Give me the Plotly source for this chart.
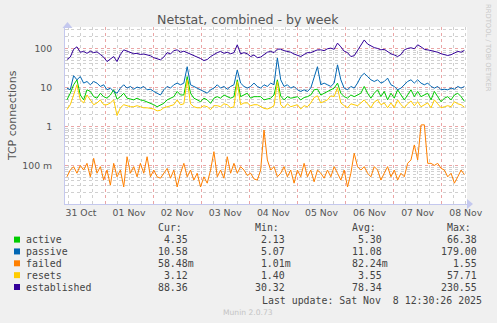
import plotly.graph_objects as go
import pandas as pd

# ---------------- data (100-minute samples, Oct 31 05:00 -> Nov 8 11:20) ----------------
start_time = "2025-10-31 05:00"
step = "100min"

active = [4.8, 7.1, 11.7, 15.7, 6.4, 4.8, 8.7, 7.9, 5.8, 5.3,
          7.1, 5.8, 5.3, 6.4, 8.7, 5.0, 5.8, 7.1, 5.3, 5.0,
          4.8, 5.3, 4.8, 4.6, 4.3, 4.0, 3.6, 3.2, 3.5, 3.9,
          4.8, 5.3, 5.8, 7.9, 6.4, 6.4, 19.0, 7.1, 5.3, 4.8,
          4.3, 5.3, 4.8, 3.9, 5.3, 5.8, 5.3, 6.4, 5.8, 5.3,
          5.8, 15.7, 5.8, 6.4, 7.1, 5.3, 5.8, 5.8, 5.8, 4.8,
          5.0, 5.3, 6.4, 15.7, 6.0, 4.8, 5.8, 5.3, 5.5, 5.8,
          4.8, 5.5, 5.8, 6.4, 8.7, 9.0, 6.4, 7.1, 7.9, 8.7,
          9.6, 12.9, 7.1, 5.8, 5.3, 6.4, 5.8, 6.4, 7.1, 10.6,
          7.1, 5.3, 7.1, 8.7, 5.8, 7.9, 4.8, 7.1, 5.3, 8.7,
          6.4, 4.8, 6.4, 8.7, 5.8, 7.9, 5.8, 6.4, 7.1, 4.8,
          7.9, 5.8, 4.3, 5.3, 5.8, 4.8, 6.4, 7.1, 5.8, 4.4]

passive = [9.6, 8.7, 20.0, 15.7, 19.0, 12.9, 14.2, 11.7, 14.2, 12.9,
           10.6, 11.7, 8.7, 9.6, 7.9, 7.1, 9.6, 11.7, 9.6, 10.6,
           9.0, 10.2, 9.6, 10.6, 8.7, 9.0, 7.9, 7.1, 6.4, 8.7,
           10.6, 9.6, 11.7, 12.9, 11.7, 12.9, 34.0, 11.7, 10.6, 9.6,
           8.7, 7.9, 7.1, 8.7, 9.6, 11.7, 9.6, 10.6, 9.0, 10.6,
           11.7, 28.0, 12.9, 10.6, 9.6, 10.6, 12.9, 10.6, 9.6, 11.7,
           10.6, 12.9, 11.7, 57.0, 15.7, 10.6, 11.7, 9.6, 10.6, 8.7,
           7.9, 8.7, 7.9, 9.6, 19.0, 34.0, 11.7, 12.9, 11.7, 10.6,
           12.9, 38.0, 15.7, 9.6, 8.7, 10.6, 9.6, 12.9, 19.0, 23.0,
           19.0, 15.7, 14.2, 15.7, 12.9, 14.2, 17.3, 11.7, 10.6, 8.7,
           9.6, 11.7, 14.2, 15.7, 12.9, 15.7, 12.9, 11.7, 12.9, 10.6,
           9.6, 10.6, 8.7, 9.0, 8.7, 9.6, 9.0, 10.6, 9.6, 10.6]

failed = [0.051, 0.076, 0.093, 0.063, 0.100, 0.076, 0.113, 0.051, 0.152, 0.063,
          0.093, 0.042, 0.076, 0.031, 0.113, 0.051, 0.076, 0.028, 0.167, 0.063,
          0.093, 0.051, 0.113, 0.063, 0.167, 0.051, 0.076, 0.051, 0.047, 0.063,
          0.084, 0.047, 0.076, 0.028, 0.063, 0.113, 0.051, 0.076, 0.042, 0.063,
          0.028, 0.051, 0.035, 0.076, 0.225, 0.051, 0.076, 0.047, 0.167, 0.063,
          0.113, 0.063, 0.093, 0.076, 0.055, 0.063, 0.045, 0.042, 0.076, 0.810,
          0.138, 0.076, 0.093, 0.051, 0.063, 0.093, 0.051, 0.076, 0.035, 0.076,
          0.051, 0.113, 0.051, 0.076, 0.038, 0.076, 0.063, 0.047, 0.076, 0.051,
          0.093, 0.063, 0.042, 0.076, 0.028, 0.063, 0.205, 0.093, 0.076, 0.093,
          0.063, 0.051, 0.093, 0.076, 0.042, 0.063, 0.093, 0.051, 0.076, 0.042,
          0.063, 0.051, 0.113, 0.138, 0.335, 0.138, 1.090, 1.100, 0.113, 0.113,
          0.100, 0.113, 0.084, 0.076, 0.051, 0.063, 0.035, 0.051, 0.076, 0.058]

resets = [2.7, 3.6, 6.4, 11.7, 4.8, 4.0, 6.4, 4.8, 3.6, 4.0,
          4.8, 3.6, 3.6, 4.0, 4.8, 1.9, 3.0, 3.6, 3.4, 3.2,
          3.2, 3.4, 3.2, 3.0, 3.0, 2.9, 2.8, 2.5, 2.6, 3.0,
          3.2, 3.4, 3.6, 4.8, 3.6, 3.8, 15.7, 3.8, 3.2, 3.0,
          3.0, 3.4, 3.2, 2.7, 3.4, 3.4, 3.2, 3.8, 3.6, 3.0,
          3.2, 14.0, 3.6, 4.0, 4.0, 3.4, 3.6, 3.6, 3.2, 2.9,
          2.8, 3.0, 3.4, 14.0, 3.6, 3.0, 3.8, 3.2, 3.4, 3.6,
          2.8, 3.4, 3.2, 4.0, 5.5, 6.1, 4.0, 4.3, 4.8, 6.1,
          5.8, 9.8, 4.0, 3.4, 3.0, 3.8, 3.6, 3.4, 4.0, 4.8,
          3.8, 3.0, 4.2, 4.8, 3.6, 4.0, 3.0, 4.0, 3.0, 4.8,
          3.6, 3.0, 3.8, 4.5, 3.4, 4.3, 3.2, 3.6, 4.0, 3.0,
          4.8, 3.8, 3.0, 3.2, 3.4, 3.2, 4.3, 3.8, 3.6, 3.1]

established = [52, 60, 95, 110, 80, 84, 75, 85, 78, 82,
               70, 60, 46, 55, 62, 46, 70, 92, 85, 78,
               73, 75, 70, 72, 69, 65, 58, 55, 51, 60,
               78, 72, 88, 92, 80, 85, 78, 72, 66, 62,
               55, 49, 52, 62, 70, 78, 84, 75, 80, 73,
               78, 124, 73, 78, 73, 62, 68, 58, 60, 70,
               80, 84, 78, 96, 96, 88, 84, 80, 72, 66,
               62, 70, 78, 78, 85, 92, 92, 88, 98, 102,
               95, 137, 110, 85, 78, 62, 65, 90, 120, 165,
               130, 117, 105, 100, 92, 95, 82, 73, 68, 62,
               70, 92, 100, 104, 98, 124, 110, 95, 92, 88,
               84, 80, 73, 70, 66, 69, 75, 84, 80, 89]

series_names = ["active", "passive", "failed", "resets", "established"]
series_colors = ["#00CC00", "#0066B3", "#FF8000", "#FFCC00", "#330099"]
series_values = [active, passive, failed, resets, established]

cur_vals = ["  4.35 ", " 10.58 ", " 58.48m", "  3.12 ", " 88.36 "]
min_vals = ["  2.13 ", "  5.07 ", "  1.01m", "  1.40 ", " 30.32 "]
avg_vals = ["  5.30 ", " 11.08 ", " 82.24m", "  3.55 ", " 78.34 "]
max_vals = [" 66.38 ", "179.00 ", "  1.55 ", " 57.71 ", "230.55 "]

y_tickvals = [0.1, 1, 10, 100]
y_ticktext = ["100 m", "1", "10", "100"]

title_text = "Netstat, combined - by week"
y_title = "TCP connections"
last_update = "Last update: Sat Nov  8 12:30:26 2025"
munin_ver = "Munin 2.0.73"
rrd_credit = "RRDTOOL / TOBI OETIKER"

# ---------------- geometry ----------------
W, H = 497, 323
L, R, T, B = 65, 467, 27, 204


def px(x):
    return (x - L) / (R - L)


def py(y):
    return (B - y) / (B - T)


def nb(s):
    return s.replace(" ", "\u00a0")


times = pd.date_range(start_time, periods=len(established), freq=step)

fig = go.Figure()
for name, col, vals in zip(series_names, series_colors, series_values):
    fig.add_trace(go.Scatter(x=times, y=vals, mode="lines", name=name,
                             line=dict(color=col, width=1), showlegend=False,
                             hoverinfo="skip"))

GRID_MINOR = "#d0d0d0"
GRID_MAJOR = "#eaa6a6"
AXIS_COL = "#c4c8ee"
TXT = "#555555"

fig.update_layout(
    width=W, height=H,
    margin=dict(l=L, r=W - R, t=T, b=H - B, pad=0),
    paper_bgcolor="#f0f0f0", plot_bgcolor="#ffffff",
    font=dict(family="DejaVu Sans", color=TXT),
    showlegend=False,
)

fig.update_xaxes(
    type="date",
    range=["2025-10-31 04:02", "2025-11-08 12:37"],
    tick0="2025-10-31 00:00", dtick=86400000,
    tickformat="%d %b", ticklabelmode="period",
    ticks="", showgrid=True, gridcolor=GRID_MAJOR, griddash="dot", gridwidth=1,
    minor=dict(dtick=6 * 3600000, tick0="2025-10-31 00:00", showgrid=True,
               gridcolor=GRID_MINOR, griddash="dot", gridwidth=1, ticks=""),
    showline=True, linecolor=AXIS_COL, linewidth=1,
    tickfont=dict(family="DejaVu Sans", size=9.3, color=TXT),
    zeroline=False, fixedrange=True,
)

fig.update_yaxes(
    type="log", range=[-1.99, 2.55],
    tickvals=y_tickvals, ticktext=y_ticktext,
    ticks="", ticklabelstandoff=10,
    showgrid=True, gridcolor=GRID_MAJOR, griddash="dot", gridwidth=1,
    minor=dict(dtick="D1", showgrid=True, gridcolor=GRID_MINOR, griddash="dot",
               gridwidth=1, ticks=""),
    showline=True, linecolor=AXIS_COL, linewidth=1,
    tickfont=dict(family="DejaVu Sans", size=9.3, color=TXT),
    zeroline=False, fixedrange=True,
)

ann = []


def add_text(x, y, text, size, color=TXT, family="DejaVu Sans", xanchor="left", angle=0):
    ann.append(dict(x=px(x), y=py(y), xref="paper", yref="paper", text=text,
                    showarrow=False, xanchor=xanchor, yanchor="middle",
                    font=dict(family=family, size=size, color=color),
                    borderpad=0, borderwidth=0, textangle=angle))


add_text(248.2, 19.3, title_text, 12.6, color="#555555", xanchor="center")
add_text(12, 115, y_title, 10.9, color="#555555", xanchor="center", angle=-90)
add_text(488, 48, rrd_credit, 6.8, color="#c8c8c8", xanchor="center", angle=90)

MONO = "DejaVu Sans Mono"
MS = 9.9
LCOL = "#444444"
hdr_y = 227.7
add_text(158.3, hdr_y, "Cur:", MS, LCOL, MONO)
add_text(255.0, hdr_y, "Min:", MS, LCOL, MONO)
add_text(351.7, hdr_y, "Avg:", MS, LCOL, MONO)
add_text(446.7, hdr_y, "Max:", MS, LCOL, MONO)

shapes = []
row_y0 = 239.6
row_dy = 11.85
for i, name in enumerate(series_names):
    yy = row_y0 + i * row_dy
    shapes.append(dict(type="rect", xref="paper", yref="paper",
                       x0=px(14), x1=px(20), y0=py(yy + 3), y1=py(yy - 3),
                       fillcolor=series_colors[i], line=dict(width=0)))
    add_text(26.3, yy, name, MS, LCOL, MONO)
    add_text(152.3, yy, nb(cur_vals[i]), MS, LCOL, MONO)
    add_text(249.2, yy, nb(min_vals[i]), MS, LCOL, MONO)
    add_text(345.9, yy, nb(avg_vals[i]), MS, LCOL, MONO)
    add_text(440.9, yy, nb(max_vals[i]), MS, LCOL, MONO)

add_text(261.7, 300.2, nb(last_update), MS, LCOL, MONO)
add_text(248, 312.3, munin_ver, 7.6, color="#c4c4c4", xanchor="center")

# axis arrows
shapes.append(dict(type="path", xref="paper", yref="paper",
                   path=f"M {px(62.5)} {py(28)} L {px(67.5)} {py(22)} L {px(72.5)} {py(28)} Z",
                   fillcolor=AXIS_COL, line=dict(width=0)))
shapes.append(dict(type="path", xref="paper", yref="paper",
                   path=f"M {px(467)} {py(199)} L {px(473)} {py(204)} L {px(467)} {py(209)} Z",
                   fillcolor=AXIS_COL, line=dict(width=0)))

fig.update_layout(annotations=ann, shapes=shapes)

fig.write_html("out.html")
